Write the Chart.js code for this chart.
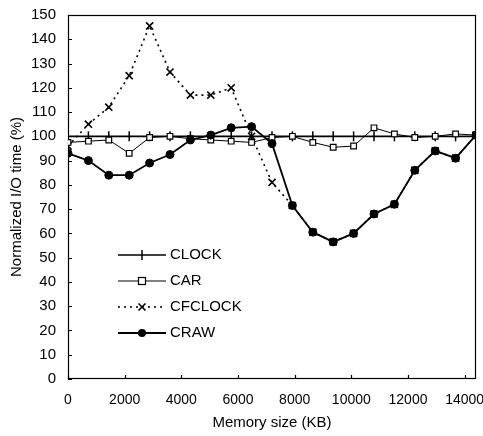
<!DOCTYPE html>
<html><head><meta charset="utf-8">
<script src="https://cdn.jsdelivr.net/npm/chart.js@4"></script>
<style>html,body{margin:0;padding:0;background:#fff}#wrap{width:483px;height:436px}</style>
</head><body><div id="wrap"><canvas id="c" width="483" height="436"></canvas></div>
<script>
const memorySizes = [0,720,1440,2160,2880,3600,4320,5040,5760,6480,7200,7920,8640,9360,10080,10800,11520,12240,12960,13680,14400];
const clockVals   = [100,100,100,100,100,100,100,100,100,100,100,100,100,100,100,100,100,100,100,100,100];
const carVals     = [97.5,98,98.5,93,99.5,100,99,98.5,98,97.5,99.5,100,97.5,95.5,96,103.5,101,99.5,100,101,100.5];
const cfclockVals = [96,105,112,125,145.5,126.5,117,117,120,100,81,71.5,60.5,56.5,60,68,72,86,94,91,100.5];
const crawVals    = [93,90,84,84,89,92.5,98.5,100.5,103.5,104,97,71.5,60.5,56.5,60,68,72,86,94,91,100.5];
const xTicks = [0,2000,4000,6000,8000,10000,12000,14000];
const yTicks = [0,10,20,30,40,50,60,70,80,90,100,110,120,130,140,150];
const seriesNames = ['CLOCK','CAR','CFCLOCK','CRAW'];

const pts = v => memorySizes.map((x,i)=>({x:x,y:v[i]}));
const FONT = 'Liberation Sans, Arial, sans-serif';

const styles = [
  {borderColor:'#000',borderWidth:1.6,pointStyle:'line',rotation:90,pointRadius:5,pointBorderWidth:1.5,pointBackgroundColor:'#000',pointBorderColor:'#000'},
  {borderColor:'#000',borderWidth:1,pointStyle:'rect',pointRadius:4,pointBorderWidth:1.2,pointBackgroundColor:'#fff',pointBorderColor:'#000'},
  {borderColor:'#000',borderWidth:1.6,borderDash:[2,4],pointStyle:'crossRot',pointRadius:5,pointBorderWidth:1.6,pointBackgroundColor:'#000',pointBorderColor:'#000'},
  {borderColor:'#000',borderWidth:1.8,pointStyle:'circle',pointRadius:4,pointBorderWidth:1,pointBackgroundColor:'#000',pointBorderColor:'#000'}
];
const vals = [clockVals,carVals,cfclockVals,crawVals];
const order = [2,0,1,3];

const frame = {
  id:'frame',
  beforeDatasetsDraw(chart){
    const {ctx, chartArea:a, scales:{x,y}} = chart;
    ctx.save();
    ctx.strokeStyle='#000'; ctx.lineWidth=1.2;
    ctx.strokeRect(a.left+0.5,a.top+0.5,a.right-a.left-1,a.bottom-a.top-1);
    ctx.beginPath();
    yTicks.forEach(v=>{const p=Math.round(y.getPixelForValue(v))+0.5; ctx.moveTo(a.left,p); ctx.lineTo(a.left+4,p);});
    xTicks.forEach(v=>{const p=Math.round(x.getPixelForValue(v))+0.5; ctx.moveTo(p,a.bottom); ctx.lineTo(p,a.bottom-4);});
    ctx.stroke();
    ctx.restore();
  },
  afterDraw(chart){
    const ctx = chart.ctx;
    ctx.save();
    const x0=118,x1=166,ys=[255,281,307,333];
    seriesNames.forEach((n,i)=>{
      const s=styles[i], yy=ys[i], c=(x0+x1)/2;
      ctx.strokeStyle='#000'; ctx.lineWidth=s.borderWidth; ctx.setLineDash(s.borderDash||[]);
      ctx.beginPath(); ctx.moveTo(x0,yy); ctx.lineTo(x1,yy); ctx.stroke();
      ctx.setLineDash([]);
      ctx.lineWidth=s.pointBorderWidth;
      ctx.beginPath();
      if(s.pointStyle==='rect'){ctx.fillStyle='#fff';ctx.fillRect(c-3.5,yy-3.5,7,7);ctx.strokeRect(c-3.5,yy-3.5,7,7);}
      else if(s.pointStyle==='circle'){ctx.fillStyle='#000';ctx.arc(c,yy,4,0,Math.PI*2);ctx.fill();}
      else if(s.pointStyle==='line'){ctx.moveTo(c,yy-5);ctx.lineTo(c,yy+5);ctx.stroke();}
      else {const r=3.5;ctx.moveTo(c-r,yy-r);ctx.lineTo(c+r,yy+r);ctx.moveTo(c+r,yy-r);ctx.lineTo(c-r,yy+r);ctx.stroke();}
      ctx.fillStyle='#000'; ctx.font='15px '+FONT; ctx.textBaseline='middle'; ctx.textAlign='left';
      ctx.fillText(n,x1+4,yy);
    });
    ctx.restore();
  }
};

new Chart(document.getElementById('c'),{
  type:'line',
  data:{datasets: order.map(i=>Object.assign({label:seriesNames[i],data:pts(vals[i]),fill:false,tension:0,order:order.length-order.indexOf(i)},styles[i]))},
  options:{
    responsive:false,animation:false,
    layout:{padding:{top:15,right:0,left:0,bottom:0}},
    plugins:{legend:{display:false},tooltip:{enabled:false}},
    scales:{
      x:{type:'linear',min:0,max:14400,
        afterBuildTicks:s=>{s.ticks=xTicks.map(v=>({value:v}));},
        afterFit:s=>{s.height=57;s.paddingLeft=0;s.paddingRight=7;},
        grid:{display:false,drawTicks:false},border:{display:false},
        ticks:{color:'#000',font:{family:FONT,size:14},padding:13,maxRotation:0,autoSkip:false,callback:v=>String(v)},
        title:{display:true,text:'Memory size (KB)',color:'#000',font:{family:FONT,size:15},padding:{top:2}}
      },
      y:{min:0,max:150,
        afterBuildTicks:s=>{s.ticks=yTicks.map(v=>({value:v}));},
        afterFit:s=>{s.width=68;s.paddingTop=0;s.paddingBottom=0;},
        grid:{display:false,drawTicks:false},border:{display:false},
        ticks:{color:'#000',font:{family:FONT,size:15},padding:12,autoSkip:false,callback:v=>String(v)},
        title:{display:true,text:'Normalized I/O time (%)',color:'#000',font:{family:FONT,size:15},padding:{top:8,bottom:4}}
      }
    }
  },
  plugins:[frame]
});
</script></body></html>
